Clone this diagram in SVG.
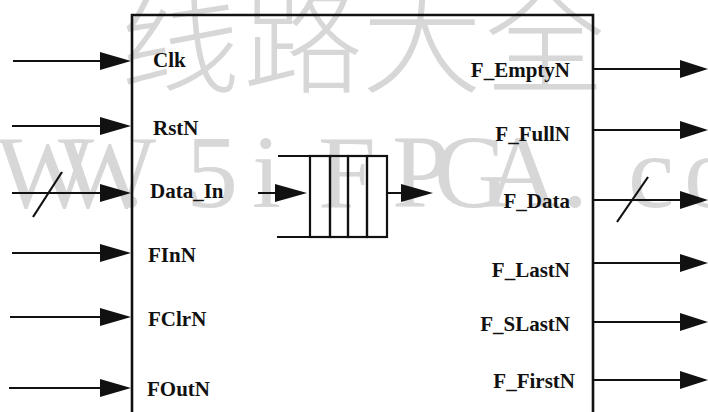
<svg xmlns="http://www.w3.org/2000/svg" width="708" height="412" viewBox="0 0 708 412">
<style>
.wm{fill:#d7d7d7}
.lbl{font-family:"Liberation Serif","Times New Roman",serif;font-size:21px;font-weight:bold;fill:#111}
.r{text-anchor:end}
.ln{stroke:#111;stroke-width:2.2;fill:none}
.box{stroke:#111;stroke-width:2.6;fill:none}
.ah{fill:#111}
</style>
<defs>
<polygon id="headL" points="-31,-9 0,0 -31,9"/>
<polygon id="headR" points="-28,-9 0,0 -28,9"/>
</defs>
<rect width="708" height="412" fill="#fff"/>
<g id="watermark">
<text class="wm" x="120 243 362 485" y="84" font-family="'Noto Sans CJK SC',sans-serif" font-weight="300" font-size="120">线路大全</text>
<text class="wm" x="-4 58 118 186 252 318 392 434 484 562 628 684" y="207" font-family="'Liberation Serif',serif" font-size="104">WW.5iFPGA.co</text>
</g>
<g id="fifo-block">
<path class="box" d="M132,420 V15 H593 V420"/>
</g>
<g id="fifo-icon">
<path class="ln" d="M278,156 H388 M277,237 H388"/>
<rect class="ln" x="310" y="156" width="20" height="81"/>
<rect class="ln" x="330" y="156" width="18" height="81"/>
<rect class="ln" x="348" y="156" width="19" height="81"/>
<rect class="ln" x="367" y="156" width="20" height="81"/>
</g>
<g id="labels-in">
<text class="lbl" x="153" y="67">Clk</text>
<text class="lbl" x="153" y="135">RstN</text>
<text class="lbl" x="150" y="198">Data_In</text>
<text class="lbl" x="148" y="262">FInN</text>
<text class="lbl" x="148" y="326">FClrN</text>
<text class="lbl" x="147" y="396">FOutN</text>
</g>
<g id="labels-out">
<text class="lbl r" x="570" y="77">F_EmptyN</text>
<text class="lbl r" x="570" y="141">F_FullN</text>
<text class="lbl r" x="570" y="208">F_Data</text>
<text class="lbl r" x="570" y="277">F_LastN</text>
<text class="lbl r" x="570" y="331">F_SLastN</text>
<text class="lbl r" x="575" y="388">F_FirstN</text>
</g>
<g id="connectors">
<path class="ln" d="M13,61 H105 M12,126 H105 M12,193 H105 M12,253 H105 M10,317 H105 M9,388 H105"/>
<use href="#headL" class="ah" x="131" y="61"/>
<use href="#headL" class="ah" x="131" y="126"/>
<use href="#headL" class="ah" x="131" y="193"/>
<use href="#headL" class="ah" x="131" y="253"/>
<use href="#headL" class="ah" x="131" y="317"/>
<use href="#headL" class="ah" x="131" y="388"/>
<path class="ln" d="M33,217 L62,172"/>
<path class="ln" d="M593,69 H685 M593,130 H685 M593,200 H685 M593,263 H685 M593,322 H685 M593,380 H685"/>
<use href="#headR" class="ah" x="708" y="69"/>
<use href="#headR" class="ah" x="708" y="130"/>
<use href="#headR" class="ah" x="708" y="200"/>
<use href="#headR" class="ah" x="708" y="263"/>
<use href="#headR" class="ah" x="708" y="322"/>
<use href="#headR" class="ah" x="708" y="380"/>
<path class="ln" d="M617,222 L648,177"/>
<path class="ln" d="M258,193 H280 M388,193 H405"/>
<polygon class="ah" points="275,184 307,193 275,202"/>
<polygon class="ah" points="401,184 433,193 401,202"/>
</g>
</svg>
